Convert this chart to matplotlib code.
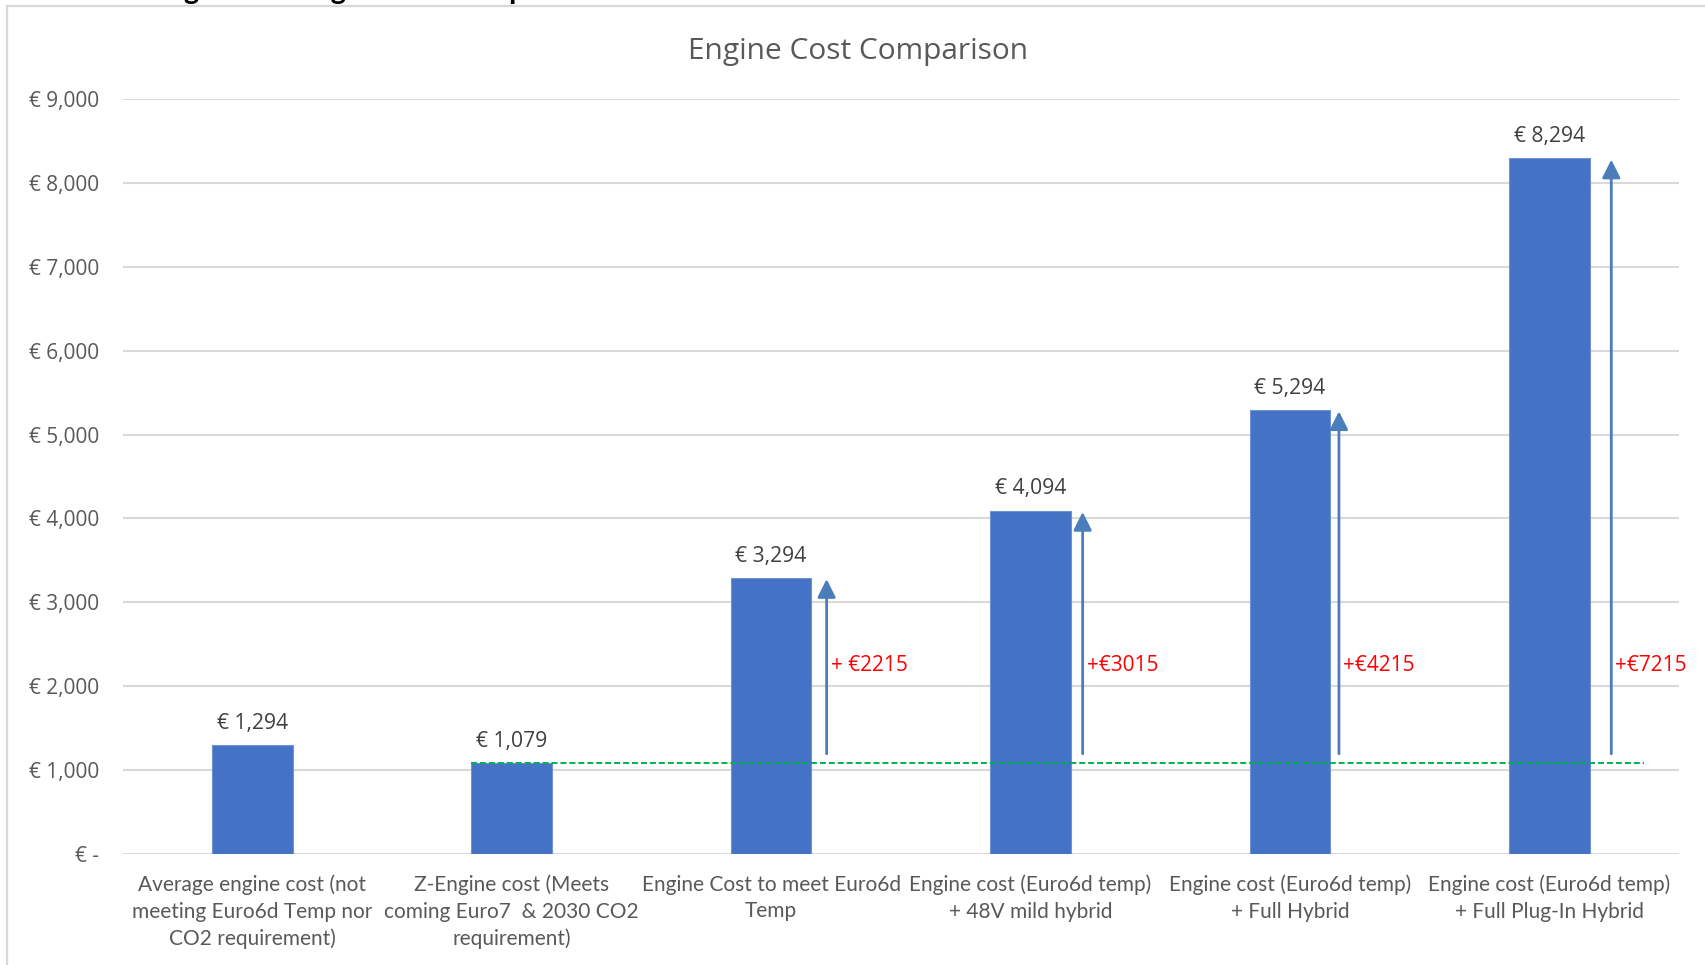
import matplotlib
matplotlib.use('Agg')
import matplotlib.pyplot as plt
from matplotlib.lines import Line2D
from matplotlib.ticker import FuncFormatter
import numpy as np

categories = [
    'Average engine cost (not\nmeeting Euro6d Temp nor\nCO2 requirement)',
    'Z-Engine cost (Meets\ncoming Euro7  & 2030 CO2\nrequirement)',
    'Engine Cost to meet Euro6d\nTemp',
    'Engine cost (Euro6d temp)\n+ 48V mild hybrid',
    'Engine cost (Euro6d temp)\n+ Full Hybrid',
    'Engine cost (Euro6d temp)\n+ Full Plug-In Hybrid',
]
costs = [1294, 1079, 3294, 4094, 5294, 8294]
base_idx = 1  # Z-engine is the reference cost
uplift_idx = [2, 3, 4, 5]
uplift_labels = ['+ €2215', '+€3015', '+€4215', '+€7215']
arrow_dx = [0.214, 0.201, 0.189, 0.239]  # arrows were placed by hand next to each bar

W, H = 1705, 965
fig = plt.figure(figsize=(W / 100, H / 100), dpi=100)
ax = fig.add_axes([122.6 / W, 111 / H, 1556.4 / W, 755 / H])

x = np.arange(len(categories))
bar_w = 0.31
ax.bar(x, costs, width=bar_w, color='#4472C4', edgecolor='#6f93d6', linewidth=0.8, zorder=2)

for xi, v in zip(x, costs):
    ax.annotate('€ {:,}'.format(v), (xi, v), xytext=(0, 8), textcoords='offset points',
                ha='center', va='bottom', fontsize=15.2, color='#404040', family='Open Sans')

base = costs[base_idx]
for i, lab, dx in zip(uplift_idx, uplift_labels, arrow_dx):
    ax.annotate('', xy=(x[i] + dx, costs[i]), xytext=(x[i] + dx, base),
                arrowprops=dict(arrowstyle='-|>,head_length=1.1,head_width=0.55',
                                color='#4a7ebb', lw=2, shrinkA=7, shrinkB=1), zorder=3)
    ax.text(x[i] + dx + 0.015, 2250, lab, color='#ff0000', fontsize=15,
            ha='left', va='center', family='Open Sans')

# reference line at the Z-engine cost
ax.plot([x[base_idx] - bar_w / 2, x[-1] + 0.365], [base, base], color='#00b050',
        ls=(0, (3.1, 1.5)), lw=1.4, zorder=4)

ax.set_xlim(-0.5, 5.5)
ax.set_ylim(0, 9000)
ax.set_yticks(range(0, 9001, 1000))
ax.yaxis.set_major_formatter(FuncFormatter(lambda v, p: '€ -' if v == 0 else '€ {:,.0f}'.format(v)))
ax.yaxis.grid(True, color='#d9d9d9', lw=1.5)
ax.set_axisbelow(True)
for s in ax.spines.values():
    s.set_visible(False)
ax.set_xticks(x)
ax.set_xticklabels(categories, fontsize=15, color='#595959', family='Lato', linespacing=1.39)
ax.tick_params(axis='x', length=0, pad=15)
ax.tick_params(axis='y', length=0, pad=17, labelsize=15, labelcolor='#595959')
for t in ax.get_yticklabels():
    t.set_family('Open Sans')

fig.text(858 / W, 1 - 51 / H, 'Engine Cost Comparison', ha='center', va='center',
         fontsize=21.5, color='#595959', family='Open Sans')

# heading of the page above the chart, mostly cut off
fig.text(160 / W, 1 + 1 / H, 'Figure 12: Engine cost comparison', ha='left', va='baseline',
         fontsize=21, fontweight='bold', family='Lato', color='black')

# chart frame
fig.add_artist(Line2D([7 / W, 1], [1 - 6 / H, 1 - 6 / H], color='#d9d9d9', lw=1.6))
fig.add_artist(Line2D([7 / W, 7 / W], [0, 1 - 6 / H], color='#d9d9d9', lw=1.6))

fig.savefig('out.png', dpi=100)
